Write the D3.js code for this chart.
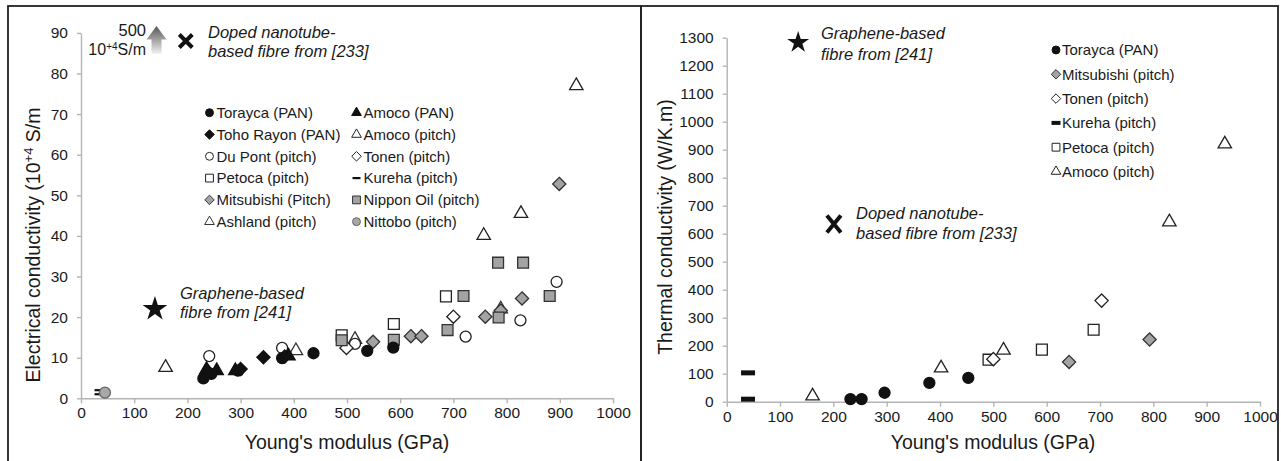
<!DOCTYPE html>
<html>
<head>
<meta charset="utf-8">
<script src="https://cdn.jsdelivr.net/npm/d3@7"></script>
<style>
	body { margin: 0; background: #fff; }
	svg { display: block; font-family: "Liberation Sans", Arial, sans-serif; }
	.axis path, .axis line { stroke: #b4b4b4; stroke-width: 1.4; }
	.axis text { fill: #1a1a1a; font-size: 15.5px; }
</style>
</head>
<body>
<svg id="chart" width="1281" height="461"></svg>
<script>
console.log("script loaded")

// ---- data: electrical conductivity (left) ----
const xTickValues = [0, 100, 200, 300, 400, 500, 600, 700, 800, 900, 1000];
const elecTickValues = [0, 10, 20, 30, 40, 50, 60, 70, 80, 90];
const thermTickValues = [0, 100, 200, 300, 400, 500, 600, 700, 800, 900, 1000, 1100, 1200, 1300];

const elecLegendNames = [
	"Torayca (PAN)", "Amoco (PAN)",
	"Toho Rayon (PAN)", "Amoco (pitch)",
	"Du Pont (pitch)", "Tonen (pitch)",
	"Petoca (pitch)", "Kureha (pitch)",
	"Mitsubishi (Pitch)", "Nippon Oil (pitch)",
	"Ashland (pitch)", "Nittobo (pitch)"
];

const elecAshland = [[404, 11.7], [515, 14.5], [789, 22.0]];
const elecAmocoPitch = [[159, 7.6], [757, 40.1], [827, 45.5], [931, 77.0]];
const elecDuPont = [[241, 10.4], [378, 12.4], [515, 13.4], [723, 15.2], [826, 19.2], [894, 28.7]];
const elecTonen = [[499, 12.4], [700, 20.1]];
const elecPetoca = [[490, 15.5], [588, 18.3], [686, 25.1]];
const elecMitsubishi = [[549, 13.9], [620, 15.3], [640, 15.3], [760, 20.1], [789, 21.6], [829, 24.6], [899, 52.8]];
const elecNippon = [[490, 14.3], [588, 14.4], [689, 16.8], [719, 25.2], [784, 33.4], [831, 33.4], [785, 19.9], [881, 25.2]];
const elecKureha = [[33, 2.0], [33, 1.0]];
const elecNittobo = [[45, 1.4]];
const elecTorayca = [[230, 4.9], [245, 6.0], [295, 6.8], [378, 9.9], [437, 11.1], [538, 11.7], [587, 12.5]];
const elecAmocoPAN = [[236, 7.1], [255, 6.8], [290, 6.8], [390, 10.4]];
const elecTohoRayon = [[240, 6.4], [300, 7.2], [343, 10.1], [383, 10.3]];

const elecGraphene = [[139, 22.0]];
const elecNanotube = [[197, 88.0]];

// ---- data: thermal conductivity (right) ----
const thermLegendNames = ["Torayca (PAN)", "Mitsubishi (pitch)", "Tonen (pitch)", "Kureha (pitch)", "Petoca (pitch)", "Amoco (pitch)"];

const thermTorayca = [[232, 9.5], [253, 9.5], [296, 32], [380, 67], [453, 85]];
const thermMitsubishi = [[642, 142], [793, 222]];
const thermTonen = [[500, 152], [703, 361]];
const thermKureha = [[40, 103], [40, 9]];
const thermPetoca = [[491, 150], [591, 186], [688, 257]];
const thermAmoco = [[161, 20], [402, 120], [519, 184], [830, 642], [934, 920]];

const thermGraphene = [[134, 1283]];
const thermNanotube = [[201, 635]];

// ---- styles ----
const black = "#111";
const grey = "#a3a3a3";
const styles = {
	"Torayca (PAN)": { shape: "circle", fill: black, stroke: black },
	"Amoco (PAN)": { shape: "triangle", fill: black, stroke: black },
	"Toho Rayon (PAN)": { shape: "diamond", fill: black, stroke: black },
	"Amoco (pitch)": { shape: "triangle", fill: "#fff", stroke: "#222" },
	"Du Pont (pitch)": { shape: "circle", fill: "#fff", stroke: "#222" },
	"Tonen (pitch)": { shape: "diamond", fill: "#fff", stroke: "#222" },
	"Petoca (pitch)": { shape: "square", fill: "#fff", stroke: "#222" },
	"Kureha (pitch)": { shape: "dash", fill: black, stroke: "none" },
	"Mitsubishi (Pitch)": { shape: "diamond", fill: grey, stroke: "#333" },
	"Mitsubishi (pitch)": { shape: "diamond", fill: grey, stroke: "#333" },
	"Nippon Oil (pitch)": { shape: "square", fill: grey, stroke: "#333" },
	"Ashland (pitch)": { shape: "triangle", fill: "#fff", stroke: "#333" },
	"Nittobo (pitch)": { shape: "circle", fill: "#a8a8a8", stroke: "#666" }
};

function shapePath(shape, scale, dashW, dashH) {
	if (shape === "circle") return d3.symbol(d3.symbolCircle, 95 * scale * scale)();
	if (shape === "square") return d3.symbol(d3.symbolSquare, 118 * scale * scale)();
	if (shape === "triangle") return d3.symbol(d3.symbolTriangle, 78 * scale * scale)();
	if (shape === "diamond") {
		const h = 6.6 * scale;
		return `M0,${-h}L${h},0L0,${h}L${-h},0Z`;
	}
	if (shape === "dash") {
		return `M${-dashW / 2},${-dashH / 2}h${dashW}v${dashH}h${-dashW}Z`;
	}
}

const svg = d3.select("#chart");

// panel frames
svg.append("rect").attr("x", 8).attr("y", 6).attr("width", 633).attr("height", 470)
	.attr("fill", "none").attr("stroke", "#222").attr("stroke-width", 1.8);
svg.append("rect").attr("x", 641).attr("y", 6).attr("width", 637).attr("height", 470)
	.attr("fill", "none").attr("stroke", "#222").attr("stroke-width", 1.8);

function drawAxes(g, x, y, yTicks) {
	g.append("g").attr("class", "axis")
		.attr("transform", `translate(0,${y(0)})`)
		.call(d3.axisBottom(x).tickValues(xTickValues).tickFormat(d3.format("d"))
			.tickSize(5).tickPadding(4).tickSizeOuter(0));
	g.append("g").attr("class", "axis")
		.attr("transform", `translate(${x(0)},0)`)
		.call(d3.axisLeft(y).tickValues(yTicks).tickFormat(d3.format("d"))
			.tickSize(4).tickPadding(9).tickSizeOuter(0));
}

function drawSeries(g, x, y, name, points, opts) {
	const st = styles[name];
	const d = shapePath(st.shape, 1, opts.dashW, opts.dashH);
	g.append("g").selectAll("path")
		.data(points)
		.join("path")
		.attr("transform", p => `translate(${x(p[0])},${y(p[1])})`)
		.attr("d", d)
		.attr("fill", st.fill)
		.attr("stroke", st.stroke)
		.attr("stroke-width", 1.3);
}

function drawStar(g, x, y, pts, r) {
	g.selectAll(null).data(pts).join("path")
		.attr("transform", p => `translate(${x(p[0])},${y(p[1])})`)
		.attr("d", d3.symbol(d3.symbolStar, r * r / 0.8908)())
		.attr("fill", black);
}

function drawCross(g, x, y, pts, w, h) {
	g.selectAll(null).data(pts).join("path")
		.attr("transform", p => `translate(${x(p[0])},${y(p[1])})`)
		.attr("d", `M${-w / 2},${-h / 2}L${w / 2},${h / 2}M${w / 2},${-h / 2}L${-w / 2},${h / 2}`)
		.attr("stroke", black).attr("stroke-width", 4).attr("fill", "none");
}

function italicText(g, x0, y0, lines, size, gap) {
	const t = g.append("text").attr("font-style", "italic").attr("font-size", size).attr("fill", "#1a1a1a");
	lines.forEach((s, i) => t.append("tspan").attr("x", x0).attr("y", y0 + i * gap).text(s));
}

// ================= LEFT: electrical conductivity =================
const xL = d3.scaleLinear().domain([0, 1000]).range([81, 613]);
const yL = d3.scaleLinear().domain([0, 90]).range([398.3, 32.9]);
const gL = svg.append("g");
drawAxes(gL, xL, yL, elecTickValues);

const elecSeries = [
	["Ashland (pitch)", elecAshland],
	["Amoco (pitch)", elecAmocoPitch],
	["Du Pont (pitch)", elecDuPont],
	["Tonen (pitch)", elecTonen],
	["Petoca (pitch)", elecPetoca],
	["Mitsubishi (Pitch)", elecMitsubishi],
	["Nippon Oil (pitch)", elecNippon],
	["Kureha (pitch)", elecKureha],
	["Nittobo (pitch)", elecNittobo],
	["Torayca (PAN)", elecTorayca],
	["Toho Rayon (PAN)", elecTohoRayon],
	["Amoco (PAN)", elecAmocoPAN]
];
elecSeries.forEach(([name, pts]) => drawSeries(gL, xL, yL, name, pts, { dashW: 8, dashH: 2.2 }));

drawStar(gL, xL, yL, elecGraphene, 13);
drawCross(gL, xL, yL, elecNanotube, 13, 13);
italicText(gL, 180, 299, ["Graphene-based", "fibre from [241]"], 16.5, 18.5);
italicText(gL, 208, 37.5, ["Doped nanotube-", "based fibre from [233]"], 16.5, 19);

// gradient arrow "500 10+4 S/m"
const grad = svg.append("defs").append("linearGradient")
	.attr("id", "arrowGrad").attr("x1", 0).attr("y1", 0).attr("x2", 0).attr("y2", 1);
grad.append("stop").attr("offset", "0%").attr("stop-color", "#555");
grad.append("stop").attr("offset", "100%").attr("stop-color", "#f2f2f2");
gL.append("path")
	.attr("d", "M156.5,26L166.5,39.5L161.5,39.5L161.5,54L151.5,54L151.5,39.5L146.5,39.5Z")
	.attr("fill", "url(#arrowGrad)");
gL.append("text").attr("x", 146).attr("y", 36).attr("text-anchor", "end")
	.attr("font-size", 16.5).attr("fill", "#1a1a1a").text("500");
const unitText = gL.append("text").attr("x", 146).attr("y", 54.5).attr("text-anchor", "end")
	.attr("font-size", 16).attr("fill", "#1a1a1a");
unitText.append("tspan").text("10");
unitText.append("tspan").attr("dy", -5).attr("font-size", 10).text("+4");
unitText.append("tspan").attr("dy", 5).text("S/m");

// legend (two columns)
const legL = gL.append("g");
elecLegendNames.forEach((name, i) => {
	const col = i % 2, row = Math.floor(i / 2);
	const mx = col === 0 ? 209.5 : 356.5;
	const my = 112.7 + row * 21.8;
	const st = styles[name];
	legL.append("path")
		.attr("transform", `translate(${mx},${my})`)
		.attr("d", shapePath(st.shape, 0.72, 8, 2.2))
		.attr("fill", st.fill).attr("stroke", st.stroke).attr("stroke-width", 1);
	legL.append("text").attr("x", mx + 7).attr("y", my + 5.3)
		.attr("font-size", 15).attr("fill", "#1a1a1a").text(name);
});

// axis titles
gL.append("text").attr("x", 347).attr("y", 449).attr("text-anchor", "middle")
	.attr("font-size", 19.5).attr("fill", "#1a1a1a").text("Young's modulus (GPa)");
const yTitleL = gL.append("text").attr("transform", "translate(40,245) rotate(-90)")
	.attr("text-anchor", "middle").attr("font-size", 19.5).attr("fill", "#1a1a1a");
yTitleL.append("tspan").text("Electrical conductivity (10");
yTitleL.append("tspan").attr("dy", -7).attr("font-size", 13).text("+4");
yTitleL.append("tspan").attr("dy", 7).text(" S/m");

// ================= RIGHT: thermal conductivity =================
const xR = d3.scaleLinear().domain([0, 1000]).range([726.7, 1260]);
const yR = d3.scaleLinear().domain([0, 1300]).range([401.7, 37.7]);
const gR = svg.append("g");
drawAxes(gR, xR, yR, thermTickValues);

const thermSeries = [
	["Amoco (pitch)", thermAmoco],
	["Petoca (pitch)", thermPetoca],
	["Tonen (pitch)", thermTonen],
	["Mitsubishi (pitch)", thermMitsubishi],
	["Kureha (pitch)", thermKureha],
	["Torayca (PAN)", thermTorayca]
];
thermSeries.forEach(([name, pts]) => drawSeries(gR, xR, yR, name, pts, { dashW: 14, dashH: 5 }));

drawStar(gR, xR, yR, thermGraphene, 11.5);
drawCross(gR, xR, yR, thermNanotube, 14, 17);
italicText(gR, 821, 38.5, ["Graphene-based", "fibre from [241]"], 16.5, 21);
italicText(gR, 856, 218.5, ["Doped nanotube-", "based fibre from [233]"], 16.5, 20.5);

const legR = gR.append("g");
thermLegendNames.forEach((name, i) => {
	const mx = 1056, my = 50 + i * 24.3;
	const st = styles[name];
	legR.append("path")
		.attr("transform", `translate(${mx},${my})`)
		.attr("d", shapePath(st.shape, 0.72, 9, 4))
		.attr("fill", st.fill).attr("stroke", st.stroke).attr("stroke-width", 1);
	legR.append("text").attr("x", mx + 6).attr("y", my + 5.3)
		.attr("font-size", 15).attr("fill", "#1a1a1a").text(name);
});

gR.append("text").attr("x", 993).attr("y", 449).attr("text-anchor", "middle")
	.attr("font-size", 19.5).attr("fill", "#1a1a1a").text("Young's modulus (GPa)");
gR.append("text").attr("transform", "translate(672,227) rotate(-90)")
	.attr("text-anchor", "middle").attr("font-size", 19.5).attr("fill", "#1a1a1a")
	.text("Thermal conductivity (W/K.m)");
</script>
</body>
</html>
